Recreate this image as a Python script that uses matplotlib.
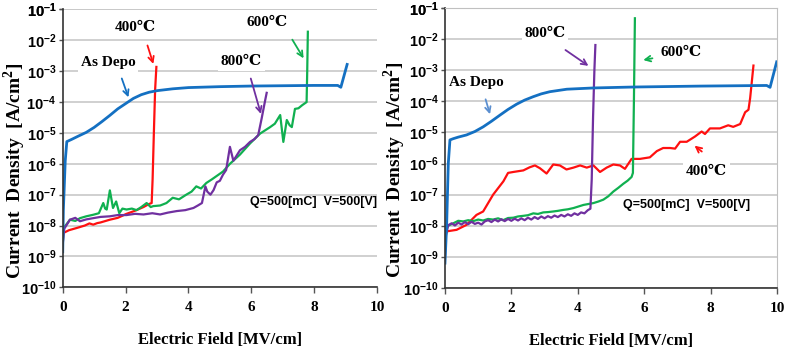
import numpy as np
import matplotlib
matplotlib.use("Agg")
import matplotlib.pyplot as plt

# ---- data (exponents of 10) ----
# left panel
L_depo_x = [0, 0.02, 0.08, 0.13, 0.28, 0.5, 0.75, 1.0, 1.25, 1.5, 1.75, 2.0, 2.25, 2.5, 2.75, 3.0,
            3.5, 4.0, 5.0, 6.0, 7.0, 8.0, 8.75, 8.85, 9.05]
L_depo_y = [-8.85, -7.5, -5.9, -5.28, -5.21, -5.1, -4.98, -4.82, -4.63, -4.43, -4.22, -4.05, -3.88,
            -3.76, -3.68, -3.63, -3.57, -3.53, -3.5, -3.48, -3.47, -3.46, -3.46, -3.52, -2.78]

L_400_x = [0, 0.02, 0.2, 0.44, 0.7, 0.85, 0.97, 1.1, 1.2, 1.5, 1.75, 2.03, 2.3, 2.57, 2.75, 2.83,
           2.86, 2.9, 2.94, 2.98]
L_400_y = [-8.3, -8.24, -8.15, -8.08, -8.0, -7.93, -7.97, -7.92, -7.9, -7.81, -7.75, -7.62, -7.52,
           -7.4, -7.3, -7.27, -6.5, -5.0, -3.6, -2.86]

L_600_x = [0, 0.03, 0.23, 0.4, 0.55, 0.75, 0.97, 1.15, 1.29, 1.35, 1.4, 1.5, 1.6, 1.7, 1.8, 1.9,
           2.03, 2.2, 2.35, 2.5, 2.67, 2.8, 2.88, 3.1, 3.3, 3.5, 3.7, 3.93, 4.1, 4.25, 4.4, 4.57,
           4.75, 4.89, 5.1, 5.32, 5.64, 5.96, 6.28, 6.6, 6.75, 6.92, 7.02, 7.13, 7.22, 7.29, 7.39,
           7.5, 7.62, 7.76, 7.78, 7.8]
L_600_y = [-8.6, -8.08, -7.81, -7.85, -7.76, -7.7, -7.65, -7.6, -7.27, -7.45, -7.48, -6.86, -7.43,
           -7.22, -7.6, -7.45, -7.48, -7.45, -7.5, -7.4, -7.27, -7.4, -7.37, -7.35, -7.27, -7.1,
           -7.15, -7.0, -6.9, -6.73, -6.8, -6.62, -6.5, -6.4, -6.25, -6.0, -5.7, -5.34, -5.02,
           -4.81, -4.7, -4.42, -5.29, -4.58, -4.75, -4.81, -4.22, -4.2, -4.1, -4.0, -3.0, -1.72]

L_800_x = [0, 0.05, 0.23, 0.4, 0.55, 0.75, 0.97, 1.2, 1.5, 1.75, 2.03, 2.3, 2.57, 2.85, 3.1, 3.35,
           3.63, 3.9, 4.16, 4.3, 4.43, 4.54, 4.6, 4.7, 4.8, 4.9, 5.0, 5.1, 5.2, 5.32, 5.43, 5.64,
           5.8, 5.96, 6.1, 6.22, 6.33, 6.44, 6.49]
L_800_y = [-8.6, -8.1, -7.81, -7.75, -7.86, -7.8, -7.76, -7.72, -7.7, -7.66, -7.66, -7.62, -7.64,
           -7.6, -7.64, -7.58, -7.53, -7.5, -7.43, -7.35, -7.27, -6.73, -6.9, -7.0, -6.85, -6.6,
           -6.55, -6.35, -6.2, -5.45, -5.9, -5.56, -5.45, -5.29, -5.2, -5.07, -4.53, -3.95, -3.7]

# right panel
R_depo_x = [0, 0.05, 0.1, 0.15, 0.25, 0.4, 0.65, 0.9, 1.15, 1.4, 1.66, 1.9, 2.16, 2.4, 2.66, 2.9,
            3.16, 3.67, 4.47, 5.67, 7.68, 9.69, 9.79, 9.99]
R_depo_y = [-9.2, -8.0, -6.0, -5.24, -5.2, -5.15, -5.08, -4.97, -4.82, -4.64, -4.44, -4.26, -4.09,
            -3.96, -3.85, -3.76, -3.69, -3.61, -3.57, -3.54, -3.51, -3.49, -3.55, -2.73]

R_400_x = [0, 0.05, 0.35, 0.65, 0.95, 1.15, 1.45, 1.76, 1.9, 2.06, 2.36, 2.55, 2.71, 2.86, 3.06,
           3.26, 3.46, 3.66, 3.87, 4.07, 4.27, 4.47, 4.67, 4.87, 5.07, 5.27, 5.42, 5.62, 5.87,
           6.17, 6.38, 6.57, 6.78, 6.93, 7.08, 7.28, 7.53, 7.73, 7.83, 7.98, 8.28, 8.53, 8.68,
           8.89, 9.04, 9.14, 9.19, 9.29]
R_400_y = [-8.3, -8.18, -8.13, -7.97, -7.65, -7.54, -7.0, -6.57, -6.3, -6.27, -6.22, -6.12, -6.06,
           -6.15, -6.32, -6.03, -6.06, -6.19, -6.13, -6.06, -6.13, -6.06, -6.27, -6.13, -6.03,
           -6.06, -6.17, -5.85, -5.85, -5.8, -5.6, -5.5, -5.5, -5.52, -5.3, -5.3, -5.13, -4.97,
           -5.05, -4.87, -4.87, -4.77, -4.82, -4.73, -4.35, -4.27, -3.9, -2.85]

R_600_x = [0, 0.05, 0.25, 0.4, 0.55, 0.7, 0.85, 1.0, 1.15, 1.3, 1.45, 1.6, 1.75, 1.9, 2.06, 2.2,
           2.36, 2.5, 2.66, 2.8, 2.96, 3.1, 3.26, 3.4, 3.56, 3.7, 3.87, 4.02, 4.17, 4.32, 4.47,
           4.62, 4.77, 4.92, 5.07, 5.22, 5.37, 5.5, 5.62, 5.66, 5.69, 5.72]
R_600_y = [-8.6, -8.02, -7.92, -7.84, -7.86, -7.82, -7.85, -7.8, -7.83, -7.78, -7.8, -7.76, -7.82,
           -7.75, -7.74, -7.7, -7.68, -7.66, -7.6, -7.62, -7.57, -7.56, -7.54, -7.52, -7.49,
           -7.47, -7.43, -7.38, -7.33, -7.3, -7.27, -7.22, -7.16, -7.05, -6.9, -6.78, -6.65,
           -6.55, -6.43, -6.3, -4.0, -1.33]

R_800_x = [0, 0.03, 0.1, 0.2, 0.3, 0.4, 0.5, 0.6, 0.7, 0.8, 0.9, 1.0, 1.1, 1.2, 1.3, 1.4, 1.5, 1.6,
           1.7, 1.8, 1.9, 2.0, 2.1, 2.2, 2.3, 2.4, 2.5, 2.6, 2.7, 2.8, 2.9, 3.0, 3.1, 3.2, 3.3,
           3.4, 3.5, 3.6, 3.7, 3.8, 3.9, 4.0, 4.1, 4.2, 4.3, 4.38, 4.42, 4.46, 4.5, 4.53]
R_800_y = [-9.0, -8.3, -7.98, -7.92, -7.99, -7.9, -7.96, -7.88, -7.95, -7.87, -7.94, -7.9, -7.96,
           -7.86, -7.82, -7.88, -7.8, -7.86, -7.79, -7.85, -7.78, -7.84, -7.77, -7.83, -7.76,
           -7.82, -7.74, -7.8, -7.72, -7.78, -7.7, -7.76, -7.69, -7.74, -7.67, -7.72, -7.65,
           -7.7, -7.63, -7.68, -7.6, -7.65, -7.57, -7.6, -7.5, -7.45, -6.5, -4.5, -3.0, -2.19]

decades = list(range(-10, 0))
x_ticks = [0, 2, 4, 6, 8, 10]

BLUE = '#1470c2'
RED = '#ff1010'
GREEN = '#10b050'
PURPLE = '#7030a0'

SERIF = ['Liberation Serif', 'DejaVu Serif']
LABF = ['Liberation Serif', 'DejaVu Serif', 'Noto Sans CJK JP']
SANS = ['Liberation Sans']

fig = plt.figure(figsize=(7.95, 3.54), dpi=100)
axL = fig.add_axes([0.0789, 0.1884, 0.3953, 0.7848])
axR = fig.add_axes([0.5597, 0.1864, 0.4177, 0.7910])


def setup(ax, box):
    ax.set_yscale('log')
    ax.set_xlim(0, 10)
    ax.set_ylim(1e-10, 1e-1)
    ax.set_yticks([10.0 ** d for d in decades] + [1e-1])
    ax.set_yticklabels([r'$\mathregular{10^{%d}}$' % d for d in decades + [-1]],
                       family=SANS, fontsize=10.5, fontweight='bold')
    ax.yaxis.set_minor_locator(matplotlib.ticker.NullLocator())
    ax.set_xticks(x_ticks)
    ax.set_xticklabels([str(t) for t in x_ticks], family=SERIF, fontsize=11, fontweight='bold')
    ax.tick_params(axis='x', length=4, width=1, color='#555555', pad=6)
    ax.tick_params(axis='y', length=3, width=1, color='#555555', pad=1.5)
    ax.grid(axis='y', color='#c8c8c8', lw=1.2)
    ax.set_axisbelow(True)
    for s in ('left', 'bottom'):
        ax.spines[s].set_color('#333333')
        ax.spines[s].set_linewidth(1.2)
    for s in ('top', 'right'):
        ax.spines[s].set_visible(box)
        ax.spines[s].set_color('#c0c0c0')
    ax.set_xlabel('Electric Field [MV/cm]', family=SERIF, fontsize=12, fontweight='bold', labelpad=13)
    ax.set_ylabel('Current  Density  [A/cm$^{\\mathregular{2}}$]', family=SERIF, fontsize=14,
                  fontweight='bold')


def curve(ax, xs, ys, color, lw=1.6):
    ax.plot(xs, [10.0 ** v for v in ys], color=color, lw=lw, solid_joinstyle='round')


def label(ax, txt, xy, xytext, color, tpos, fs=11):
    ax.annotate('', xy=(xy[0], 10 ** xy[1]), xytext=(xytext[0], 10 ** xytext[1]),
                arrowprops=dict(arrowstyle='->', color=color, lw=1.3, mutation_scale=10))
    ax.text(tpos[0], 10 ** tpos[1], txt, ha='center', va='center', family=LABF, fontsize=fs,
            fontweight='bold', bbox=dict(facecolor='white', edgecolor='none', pad=2))


setup(axL, False)
setup(axR, True)
axL.yaxis.set_label_coords(-0.11, 0.42)
axR.yaxis.set_label_coords(-0.112, 0.42)

curve(axL, L_400_x, L_400_y, RED)
curve(axL, L_600_x, L_600_y, GREEN)
curve(axL, L_800_x, L_800_y, PURPLE)
curve(axL, L_depo_x, L_depo_y, BLUE, lw=2.0)

curve(axR, R_400_x, R_400_y, RED)
curve(axR, R_600_x, R_600_y, GREEN)
curve(axR, R_800_x, R_800_y, PURPLE)
curve(axR, R_depo_x, R_depo_y, BLUE, lw=2.0)

label(axL, 'As Depo', (2.12, -3.93), (1.85, -3.15), BLUE, (1.45, -2.72))
label(axL, '400℃', (2.91, -2.85), (2.67, -2.08), RED, (2.3, -1.58))
label(axL, '600℃', (7.71, -2.66), (7.26, -1.9), GREEN, (6.49, -1.43))
label(axL, '800℃', (6.33, -4.47), (5.96, -3.15), PURPLE, (5.69, -2.69))
axL.text(7.97, 10 ** -7.25, 'Q=500[mC]  V=500[V]', ha='center', va='center', family=SANS,
         fontsize=9, fontweight='bold')

label(axR, 'As Depo', (1.38, -4.5), (1.2, -3.85), '#5b8fd0', (0.95, -3.4))
label(axR, '800℃', (4.39, -2.91), (3.56, -2.3), PURPLE, (3.01, -1.81))
label(axR, '600℃', (5.89, -2.69), (6.33, -2.6), GREEN, (7.11, -2.44))
label(axR, '400℃', (7.45, -5.37), (7.8, -5.67), RED, (7.88, -6.26))
axR.text(7.28, 10 ** -7.33, 'Q=500[mC]  V=500[V]', ha='center', va='center', family=SANS,
         fontsize=9, fontweight='bold')

fig.savefig('out.png', dpi=100)
